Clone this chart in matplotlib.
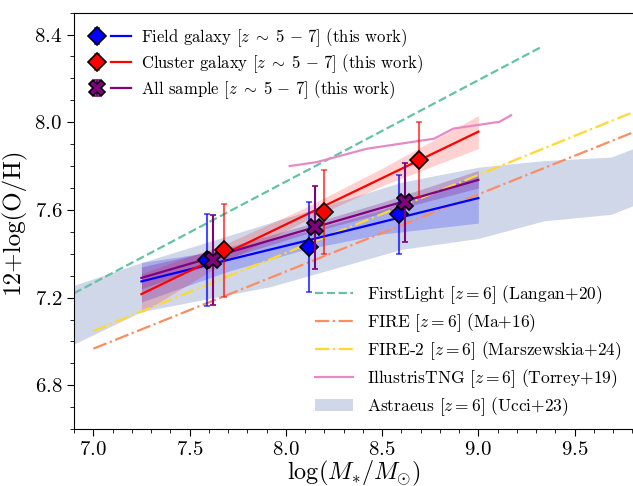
import matplotlib
matplotlib.use("Agg")
import matplotlib.pyplot as plt
from matplotlib.legend_handler import HandlerTuple

plt.rcParams['font.family'] = 'serif'
plt.rcParams['font.serif'] = ['cmr10']
plt.rcParams['mathtext.fontset'] = 'cm'
plt.rcParams['axes.formatter.use_mathtext'] = True
plt.rcParams['axes.unicode_minus'] = False

# observed binned points (this work)
field_x = [7.59, 8.12, 8.59]
field_y = [7.37, 7.43, 7.58]
field_err = [0.21, 0.205, 0.18]

cluster_x = [7.68, 8.20, 8.69]
cluster_y = [7.415, 7.59, 7.83]
cluster_err = [0.21, 0.19, 0.17]

all_x = [7.62, 8.15, 8.62]
all_y = [7.37, 7.52, 7.635]
all_err = [0.205, 0.19, 0.18]

# linear fits and their confidence bands
fit_x = [7.25, 7.7, 8.1, 8.5, 9.0]
field_fit = [7.274, 7.372, 7.458, 7.545, 7.654]
field_lo = [7.18, 7.32, 7.42, 7.49, 7.54]
field_hi = [7.36, 7.42, 7.50, 7.60, 7.76]
cluster_fit = [7.216, 7.407, 7.576, 7.745, 7.957]
cluster_lo = [7.13, 7.37, 7.55, 7.71, 7.88]
cluster_hi = [7.31, 7.45, 7.61, 7.79, 8.03]
all_fit = [7.29, 7.405, 7.508, 7.61, 7.737]
all_lo = [7.24, 7.38, 7.49, 7.585, 7.70]
all_hi = [7.34, 7.43, 7.53, 7.635, 7.78]

# simulations at z=6
firstlight_x = [6.9, 9.32]
firstlight_y = [7.22, 8.34]
fire_x = [7.0, 9.81]
fire_y = [6.967, 7.956]
fire2_x = [7.0, 9.81]
fire2_y = [7.048, 8.048]
tng_x = [8.02, 8.16, 8.42, 8.77, 8.87, 9.11, 9.17]
tng_y = [7.80, 7.818, 7.879, 7.925, 7.971, 8.002, 8.032]
astraeus_x = [6.88, 7.25, 7.92, 8.6, 9.0, 9.34, 9.69, 9.82]
astraeus_lo = [6.98, 7.136, 7.25, 7.42, 7.47, 7.55, 7.58, 7.625]
astraeus_hi = [7.25, 7.36, 7.542, 7.726, 7.795, 7.825, 7.841, 7.885]

fig = plt.figure(figsize=(6.33, 4.86), dpi=100)
ax = fig.add_axes([0.117, 0.117, 0.885, 0.857])

ast = ax.fill_between(astraeus_x, astraeus_lo, astraeus_hi, color='#8da0cb', alpha=0.42,
                      lw=0, label=r'Astraeus $[z=6]$ (Ucci+23)')
fl, = ax.plot(firstlight_x, firstlight_y, '--', color='#66c2a5', lw=1.6,
              label=r'FirstLight $[z=6]$ (Langan+20)')
fi, = ax.plot(fire_x, fire_y, '-.', color='#fc8d62', lw=1.6,
              label=r'FIRE $[z=6]$ (Ma+16)')
fi2, = ax.plot(fire2_x, fire2_y, '-.', color='#ffd92f', lw=1.6,
               label=r'FIRE-2 $[z=6]$ (Marszewskia+24)')
tng, = ax.plot(tng_x, tng_y, '-', color='#e78ac3', lw=1.6,
               label=r'IllustrisTNG $[z=6]$ (Torrey+19)')

ax.fill_between(fit_x, field_lo, field_hi, color='blue', alpha=0.2, lw=0)
ax.fill_between(fit_x, cluster_lo, cluster_hi, color='red', alpha=0.18, lw=0)
ax.fill_between(fit_x, all_lo, all_hi, color='purple', alpha=0.25, lw=0)

lf, = ax.plot(fit_x, field_fit, color='blue', lw=1.6)
lc, = ax.plot(fit_x, cluster_fit, color='red', lw=1.6)
la, = ax.plot(fit_x, all_fit, color='purple', lw=1.6)

ef = ax.errorbar(field_x, field_y, yerr=field_err, fmt='D', color='blue', ms=9,
                 mec='black', mew=1.2, ecolor=(0, 0, 1, 0.7), elinewidth=1.5,
                 capsize=2.5, zorder=5)
ec = ax.errorbar(cluster_x, cluster_y, yerr=cluster_err, fmt='D', color='red', ms=9,
                 mec='black', mew=1.2, ecolor=(1, 0, 0, 0.65), elinewidth=1.5,
                 capsize=2.5, zorder=5)
ea = ax.errorbar(all_x, all_y, yerr=all_err, fmt='X', color='purple', ms=11,
                 mec='black', mew=1.2, ecolor='purple', elinewidth=1.5,
                 capsize=2.5, zorder=6)

ax.set_xlim(6.9, 9.81)
ax.set_ylim(6.6, 8.5)
ax.set_xticks([7.0, 7.5, 8.0, 8.5, 9.0, 9.5])
ax.set_yticks([6.8, 7.2, 7.6, 8.0, 8.4])
ax.minorticks_on()
ax.tick_params(which='major', labelsize=15, length=5)
ax.tick_params(which='minor', length=3)
ax.set_xlabel(r'$\log(M_{*}/M_{\odot})$', fontsize=17.5, labelpad=0)
ax.set_ylabel('12+log(O/H)', fontsize=18, labelpad=6)

zr = r'$[z\;\sim\;5\,-\,7]$'
leg1 = ax.legend([(ef, lf), (ec, lc), (ea, la)],
                 ['Field galaxy ' + zr + ' (this work)',
                  'Cluster galaxy ' + zr + ' (this work)',
                  'All sample ' + zr + ' (this work)'],
                 handler_map={tuple: HandlerTuple(ndivide=None, pad=0.2)},
                 loc='upper left', frameon=False, fontsize=12, handlelength=2.6,
                 handletextpad=0.6, labelspacing=0.2, borderaxespad=0.4)
ax.add_artist(leg1)
ax.legend([fl, fi, fi2, tng, ast],
          [h.get_label() for h in [fl, fi, fi2, tng, ast]],
          loc='lower right', frameon=False, fontsize=12.5, handlelength=2.2,
          handletextpad=0.8, labelspacing=0.3, bbox_to_anchor=(1.005, -0.01))

fig.savefig('out.png', dpi=100)
